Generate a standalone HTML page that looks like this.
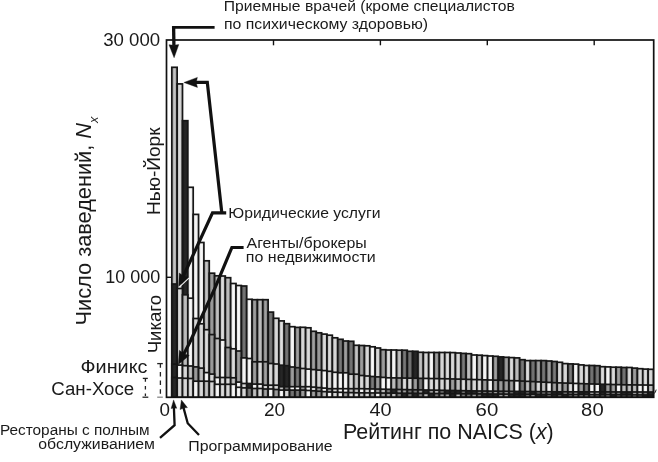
<!DOCTYPE html>
<html><head><meta charset="utf-8"><style>
html,body{margin:0;padding:0;background:#fff;}
svg{display:block;}
text{font-family:"Liberation Sans",sans-serif;fill:#1a1a1a;}
</style></head><body>
<div style="will-change:transform;width:658px;height:462px"><svg width="658" height="462" viewBox="0 0 658 462">
<defs>
<linearGradient id="gK" x1="0" y1="0" x2="1" y2="0"><stop offset="0" stop-color="#1c1c1c"/><stop offset="0.5" stop-color="#262626"/><stop offset="1" stop-color="#1c1c1c"/></linearGradient>
<linearGradient id="gD" x1="0" y1="0" x2="1" y2="0"><stop offset="0" stop-color="#4c4c4c"/><stop offset="0.5" stop-color="#7a7a7a"/><stop offset="1" stop-color="#4c4c4c"/></linearGradient>
<linearGradient id="gM" x1="0" y1="0" x2="1" y2="0"><stop offset="0" stop-color="#6e6e6e"/><stop offset="0.5" stop-color="#a2a2a2"/><stop offset="1" stop-color="#6e6e6e"/></linearGradient>
<linearGradient id="gL" x1="0" y1="0" x2="1" y2="0"><stop offset="0" stop-color="#909090"/><stop offset="0.5" stop-color="#c4c4c4"/><stop offset="1" stop-color="#909090"/></linearGradient>
<linearGradient id="gP" x1="0" y1="0" x2="1" y2="0"><stop offset="0" stop-color="#b0b0b0"/><stop offset="0.5" stop-color="#dedede"/><stop offset="1" stop-color="#b0b0b0"/></linearGradient>
<linearGradient id="gW" x1="0" y1="0" x2="1" y2="0"><stop offset="0" stop-color="#d4d4d4"/><stop offset="0.5" stop-color="#fafafa"/><stop offset="1" stop-color="#d4d4d4"/></linearGradient>
</defs>
<rect width="658" height="462" fill="#fff"/>
<clipPath id="cp"><rect x="166.5" y="30" width="487.2" height="368"/></clipPath>
<g stroke="#161616" stroke-width="1.7" clip-path="url(#cp)">
<rect x="171.80" y="67.30" width="5.35" height="330.00" fill="url(#gL)"/>
<rect x="177.15" y="83.90" width="5.35" height="313.40" fill="url(#gP)"/>
<rect x="182.50" y="120.70" width="5.35" height="276.60" fill="url(#gK)"/>
<rect x="187.86" y="187.30" width="5.35" height="210.00" fill="url(#gW)"/>
<rect x="193.21" y="214.40" width="5.35" height="182.90" fill="url(#gW)"/>
<rect x="198.56" y="242.50" width="5.35" height="154.80" fill="url(#gW)"/>
<rect x="203.91" y="260.80" width="5.35" height="136.50" fill="url(#gL)"/>
<rect x="209.26" y="273.20" width="5.35" height="124.10" fill="url(#gM)"/>
<rect x="214.62" y="275.80" width="5.35" height="121.50" fill="url(#gL)"/>
<rect x="219.97" y="276.00" width="5.35" height="121.30" fill="url(#gP)"/>
<rect x="225.32" y="277.70" width="5.35" height="119.60" fill="url(#gL)"/>
<rect x="230.67" y="283.50" width="5.35" height="113.80" fill="url(#gW)"/>
<rect x="236.02" y="285.50" width="5.35" height="111.80" fill="url(#gW)"/>
<rect x="241.38" y="286.00" width="5.35" height="111.30" fill="url(#gD)"/>
<rect x="246.73" y="299.30" width="5.35" height="98.00" fill="url(#gW)"/>
<rect x="252.08" y="299.70" width="5.35" height="97.60" fill="url(#gM)"/>
<rect x="257.43" y="299.70" width="5.35" height="97.60" fill="url(#gL)"/>
<rect x="262.78" y="299.70" width="5.35" height="97.60" fill="url(#gM)"/>
<rect x="268.14" y="312.10" width="5.35" height="85.20" fill="url(#gD)"/>
<rect x="273.49" y="318.30" width="5.35" height="79.00" fill="url(#gP)"/>
<rect x="278.84" y="320.90" width="5.35" height="76.40" fill="url(#gP)"/>
<rect x="284.19" y="323.70" width="5.35" height="73.60" fill="url(#gD)"/>
<rect x="289.54" y="326.70" width="5.35" height="70.60" fill="url(#gW)"/>
<rect x="294.90" y="327.40" width="5.35" height="69.90" fill="url(#gM)"/>
<rect x="300.25" y="327.30" width="5.35" height="70.00" fill="url(#gP)"/>
<rect x="305.60" y="327.80" width="5.35" height="69.50" fill="url(#gP)"/>
<rect x="310.95" y="331.30" width="5.35" height="66.00" fill="url(#gM)"/>
<rect x="316.30" y="332.80" width="5.35" height="64.50" fill="url(#gM)"/>
<rect x="321.66" y="334.10" width="5.35" height="63.20" fill="url(#gP)"/>
<rect x="327.01" y="335.20" width="5.35" height="62.10" fill="url(#gP)"/>
<rect x="332.36" y="337.80" width="5.35" height="59.50" fill="url(#gP)"/>
<rect x="337.71" y="339.30" width="5.35" height="58.00" fill="url(#gD)"/>
<rect x="343.06" y="341.00" width="5.35" height="56.30" fill="url(#gM)"/>
<rect x="348.42" y="341.30" width="5.35" height="56.00" fill="url(#gD)"/>
<rect x="353.77" y="345.30" width="5.35" height="52.00" fill="url(#gL)"/>
<rect x="359.12" y="345.50" width="5.35" height="51.80" fill="url(#gM)"/>
<rect x="364.47" y="345.80" width="5.35" height="51.50" fill="url(#gP)"/>
<rect x="369.82" y="346.80" width="5.35" height="50.50" fill="url(#gW)"/>
<rect x="375.18" y="348.00" width="5.35" height="49.30" fill="url(#gP)"/>
<rect x="380.53" y="349.70" width="5.35" height="47.60" fill="url(#gM)"/>
<rect x="385.88" y="350.00" width="5.35" height="47.30" fill="url(#gP)"/>
<rect x="391.23" y="350.00" width="5.35" height="47.30" fill="url(#gW)"/>
<rect x="396.58" y="350.20" width="5.35" height="47.10" fill="url(#gL)"/>
<rect x="401.94" y="350.20" width="5.35" height="47.10" fill="url(#gD)"/>
<rect x="407.29" y="351.30" width="5.35" height="46.00" fill="url(#gD)"/>
<rect x="412.64" y="351.30" width="5.35" height="46.00" fill="url(#gK)"/>
<rect x="417.99" y="352.30" width="5.35" height="45.00" fill="url(#gL)"/>
<rect x="423.34" y="352.50" width="5.35" height="44.80" fill="url(#gP)"/>
<rect x="428.70" y="352.50" width="5.35" height="44.80" fill="url(#gW)"/>
<rect x="434.05" y="352.50" width="5.35" height="44.80" fill="url(#gM)"/>
<rect x="439.40" y="352.50" width="5.35" height="44.80" fill="url(#gP)"/>
<rect x="444.75" y="352.50" width="5.35" height="44.80" fill="url(#gP)"/>
<rect x="450.10" y="352.60" width="5.35" height="44.70" fill="url(#gP)"/>
<rect x="455.46" y="353.00" width="5.35" height="44.30" fill="url(#gP)"/>
<rect x="460.81" y="353.40" width="5.35" height="43.90" fill="url(#gD)"/>
<rect x="466.16" y="353.70" width="5.35" height="43.60" fill="url(#gL)"/>
<rect x="471.51" y="355.00" width="5.35" height="42.30" fill="url(#gW)"/>
<rect x="476.86" y="355.20" width="5.35" height="42.10" fill="url(#gL)"/>
<rect x="482.22" y="355.60" width="5.35" height="41.70" fill="url(#gW)"/>
<rect x="487.57" y="356.00" width="5.35" height="41.30" fill="url(#gW)"/>
<rect x="492.92" y="356.30" width="5.35" height="41.00" fill="url(#gM)"/>
<rect x="498.27" y="356.90" width="5.35" height="40.40" fill="url(#gK)"/>
<rect x="503.62" y="357.30" width="5.35" height="40.00" fill="url(#gM)"/>
<rect x="508.98" y="357.60" width="5.35" height="39.70" fill="url(#gP)"/>
<rect x="514.33" y="357.90" width="5.35" height="39.40" fill="url(#gL)"/>
<rect x="519.68" y="359.70" width="5.35" height="37.60" fill="url(#gD)"/>
<rect x="525.03" y="360.60" width="5.35" height="36.70" fill="url(#gP)"/>
<rect x="530.38" y="360.60" width="5.35" height="36.70" fill="url(#gD)"/>
<rect x="535.74" y="360.60" width="5.35" height="36.70" fill="url(#gM)"/>
<rect x="541.09" y="360.60" width="5.35" height="36.70" fill="url(#gD)"/>
<rect x="546.44" y="361.00" width="5.35" height="36.30" fill="url(#gM)"/>
<rect x="551.79" y="361.50" width="5.35" height="35.80" fill="url(#gD)"/>
<rect x="557.14" y="362.30" width="5.35" height="35.00" fill="url(#gP)"/>
<rect x="562.50" y="363.60" width="5.35" height="33.70" fill="url(#gP)"/>
<rect x="567.85" y="363.90" width="5.35" height="33.40" fill="url(#gD)"/>
<rect x="573.20" y="364.10" width="5.35" height="33.20" fill="url(#gW)"/>
<rect x="578.55" y="364.90" width="5.35" height="32.40" fill="url(#gP)"/>
<rect x="583.90" y="365.50" width="5.35" height="31.80" fill="url(#gP)"/>
<rect x="589.26" y="365.50" width="5.35" height="31.80" fill="url(#gD)"/>
<rect x="594.61" y="365.70" width="5.35" height="31.60" fill="url(#gD)"/>
<rect x="599.96" y="366.70" width="5.35" height="30.60" fill="url(#gP)"/>
<rect x="605.31" y="366.90" width="5.35" height="30.40" fill="url(#gW)"/>
<rect x="610.66" y="367.20" width="5.35" height="30.10" fill="url(#gP)"/>
<rect x="616.02" y="367.20" width="5.35" height="30.10" fill="url(#gM)"/>
<rect x="621.37" y="367.50" width="5.35" height="29.80" fill="url(#gD)"/>
<rect x="626.72" y="367.50" width="5.35" height="29.80" fill="url(#gP)"/>
<rect x="632.07" y="368.10" width="5.35" height="29.20" fill="url(#gM)"/>
<rect x="637.42" y="368.70" width="5.35" height="28.60" fill="url(#gP)"/>
<rect x="642.78" y="369.10" width="5.35" height="28.20" fill="url(#gP)"/>
<rect x="648.13" y="369.30" width="5.35" height="28.00" fill="url(#gP)"/>
<rect x="171.80" y="284.00" width="5.35" height="113.30" fill="url(#gK)"/>
<rect x="177.15" y="288.50" width="5.35" height="108.80" fill="url(#gP)"/>
<rect x="182.50" y="294.80" width="5.35" height="102.50" fill="url(#gL)"/>
<rect x="187.86" y="298.20" width="5.35" height="99.10" fill="url(#gW)"/>
<rect x="193.21" y="318.50" width="5.35" height="78.80" fill="url(#gP)"/>
<rect x="198.56" y="323.80" width="5.35" height="73.50" fill="url(#gP)"/>
<rect x="203.91" y="329.70" width="5.35" height="67.60" fill="url(#gP)"/>
<rect x="209.26" y="334.60" width="5.35" height="62.70" fill="url(#gM)"/>
<rect x="214.62" y="338.50" width="5.35" height="58.80" fill="url(#gL)"/>
<rect x="219.97" y="340.00" width="5.35" height="57.30" fill="url(#gW)"/>
<rect x="225.32" y="347.50" width="5.35" height="49.80" fill="url(#gM)"/>
<rect x="230.67" y="348.80" width="5.35" height="48.50" fill="url(#gP)"/>
<rect x="236.02" y="351.00" width="5.35" height="46.30" fill="url(#gM)"/>
<rect x="241.38" y="357.90" width="5.35" height="39.40" fill="url(#gW)"/>
<rect x="246.73" y="358.50" width="5.35" height="38.80" fill="url(#gW)"/>
<rect x="252.08" y="361.80" width="5.35" height="35.50" fill="url(#gM)"/>
<rect x="257.43" y="361.80" width="5.35" height="35.50" fill="url(#gP)"/>
<rect x="262.78" y="361.80" width="5.35" height="35.50" fill="url(#gM)"/>
<rect x="268.14" y="363.50" width="5.35" height="33.80" fill="url(#gP)"/>
<rect x="273.49" y="364.00" width="5.35" height="33.30" fill="url(#gP)"/>
<rect x="278.84" y="365.20" width="5.35" height="32.10" fill="url(#gK)"/>
<rect x="284.19" y="365.70" width="5.35" height="31.60" fill="url(#gK)"/>
<rect x="289.54" y="367.00" width="5.35" height="30.30" fill="url(#gM)"/>
<rect x="294.90" y="367.70" width="5.35" height="29.60" fill="url(#gD)"/>
<rect x="300.25" y="368.50" width="5.35" height="28.80" fill="url(#gP)"/>
<rect x="305.60" y="369.10" width="5.35" height="28.20" fill="url(#gW)"/>
<rect x="310.95" y="369.60" width="5.35" height="27.70" fill="url(#gP)"/>
<rect x="316.30" y="370.10" width="5.35" height="27.20" fill="url(#gP)"/>
<rect x="321.66" y="370.60" width="5.35" height="26.70" fill="url(#gW)"/>
<rect x="327.01" y="371.30" width="5.35" height="26.00" fill="url(#gP)"/>
<rect x="332.36" y="372.30" width="5.35" height="25.00" fill="url(#gW)"/>
<rect x="337.71" y="372.80" width="5.35" height="24.50" fill="url(#gW)"/>
<rect x="343.06" y="372.80" width="5.35" height="24.50" fill="url(#gW)"/>
<rect x="348.42" y="374.20" width="5.35" height="23.10" fill="url(#gP)"/>
<rect x="353.77" y="374.20" width="5.35" height="23.10" fill="url(#gL)"/>
<rect x="359.12" y="375.50" width="5.35" height="21.80" fill="url(#gP)"/>
<rect x="364.47" y="376.00" width="5.35" height="21.30" fill="url(#gP)"/>
<rect x="369.82" y="376.50" width="5.35" height="20.80" fill="url(#gD)"/>
<rect x="375.18" y="376.90" width="5.35" height="20.40" fill="url(#gM)"/>
<rect x="380.53" y="377.40" width="5.35" height="19.90" fill="url(#gW)"/>
<rect x="385.88" y="377.80" width="5.35" height="19.50" fill="url(#gW)"/>
<rect x="391.23" y="377.89" width="5.35" height="19.41" fill="url(#gL)"/>
<rect x="396.58" y="377.98" width="5.35" height="19.32" fill="url(#gM)"/>
<rect x="401.94" y="378.07" width="5.35" height="19.23" fill="url(#gP)"/>
<rect x="407.29" y="378.16" width="5.35" height="19.14" fill="url(#gP)"/>
<rect x="412.64" y="378.25" width="5.35" height="19.05" fill="url(#gM)"/>
<rect x="417.99" y="378.35" width="5.35" height="18.95" fill="url(#gD)"/>
<rect x="423.34" y="378.44" width="5.35" height="18.86" fill="url(#gW)"/>
<rect x="428.70" y="378.53" width="5.35" height="18.77" fill="url(#gP)"/>
<rect x="434.05" y="378.62" width="5.35" height="18.68" fill="url(#gP)"/>
<rect x="439.40" y="378.71" width="5.35" height="18.59" fill="url(#gP)"/>
<rect x="444.75" y="378.80" width="5.35" height="18.50" fill="url(#gP)"/>
<rect x="450.10" y="378.95" width="5.35" height="18.35" fill="url(#gM)"/>
<rect x="455.46" y="379.10" width="5.35" height="18.20" fill="url(#gL)"/>
<rect x="460.81" y="379.25" width="5.35" height="18.05" fill="url(#gP)"/>
<rect x="466.16" y="379.40" width="5.35" height="17.90" fill="url(#gL)"/>
<rect x="471.51" y="379.55" width="5.35" height="17.75" fill="url(#gP)"/>
<rect x="476.86" y="379.70" width="5.35" height="17.60" fill="url(#gP)"/>
<rect x="482.22" y="379.86" width="5.35" height="17.44" fill="url(#gM)"/>
<rect x="487.57" y="380.01" width="5.35" height="17.29" fill="url(#gW)"/>
<rect x="492.92" y="380.17" width="5.35" height="17.13" fill="url(#gM)"/>
<rect x="498.27" y="380.33" width="5.35" height="16.97" fill="url(#gM)"/>
<rect x="503.62" y="380.49" width="5.35" height="16.81" fill="url(#gM)"/>
<rect x="508.98" y="380.64" width="5.35" height="16.66" fill="url(#gM)"/>
<rect x="514.33" y="380.80" width="5.35" height="16.50" fill="url(#gW)"/>
<rect x="519.68" y="381.07" width="5.35" height="16.23" fill="url(#gD)"/>
<rect x="525.03" y="381.34" width="5.35" height="15.96" fill="url(#gL)"/>
<rect x="530.38" y="381.61" width="5.35" height="15.69" fill="url(#gM)"/>
<rect x="535.74" y="381.89" width="5.35" height="15.41" fill="url(#gP)"/>
<rect x="541.09" y="382.16" width="5.35" height="15.14" fill="url(#gL)"/>
<rect x="546.44" y="382.43" width="5.35" height="14.87" fill="url(#gW)"/>
<rect x="551.79" y="382.70" width="5.35" height="14.60" fill="url(#gM)"/>
<rect x="557.14" y="382.89" width="5.35" height="14.41" fill="url(#gL)"/>
<rect x="562.50" y="383.07" width="5.35" height="14.23" fill="url(#gM)"/>
<rect x="567.85" y="383.26" width="5.35" height="14.04" fill="url(#gP)"/>
<rect x="573.20" y="383.44" width="5.35" height="13.86" fill="url(#gW)"/>
<rect x="578.55" y="383.63" width="5.35" height="13.67" fill="url(#gM)"/>
<rect x="583.90" y="383.81" width="5.35" height="13.49" fill="url(#gD)"/>
<rect x="589.26" y="384.00" width="5.35" height="13.30" fill="url(#gW)"/>
<rect x="594.61" y="384.13" width="5.35" height="13.17" fill="url(#gW)"/>
<rect x="599.96" y="384.27" width="5.35" height="13.03" fill="url(#gK)"/>
<rect x="605.31" y="384.40" width="5.35" height="12.90" fill="url(#gM)"/>
<rect x="610.66" y="384.53" width="5.35" height="12.77" fill="url(#gM)"/>
<rect x="616.02" y="384.67" width="5.35" height="12.63" fill="url(#gW)"/>
<rect x="621.37" y="384.80" width="5.35" height="12.50" fill="url(#gL)"/>
<rect x="626.72" y="384.86" width="5.35" height="12.44" fill="url(#gL)"/>
<rect x="632.07" y="384.92" width="5.35" height="12.38" fill="url(#gL)"/>
<rect x="637.42" y="384.98" width="5.35" height="12.32" fill="url(#gW)"/>
<rect x="642.78" y="385.04" width="5.35" height="12.26" fill="url(#gW)"/>
<rect x="648.13" y="385.10" width="5.35" height="12.20" fill="url(#gL)"/>
<rect x="171.80" y="364.10" width="5.35" height="33.20" fill="url(#gK)"/>
<rect x="177.15" y="365.10" width="5.35" height="32.20" fill="url(#gW)"/>
<rect x="182.50" y="365.70" width="5.35" height="31.60" fill="url(#gP)"/>
<rect x="187.86" y="366.00" width="5.35" height="31.30" fill="url(#gL)"/>
<rect x="193.21" y="366.90" width="5.35" height="30.40" fill="url(#gM)"/>
<rect x="198.56" y="368.10" width="5.35" height="29.20" fill="url(#gL)"/>
<rect x="203.91" y="372.60" width="5.35" height="24.70" fill="url(#gW)"/>
<rect x="209.26" y="374.10" width="5.35" height="23.20" fill="url(#gP)"/>
<rect x="214.62" y="377.50" width="5.35" height="19.80" fill="url(#gW)"/>
<rect x="219.97" y="377.50" width="5.35" height="19.80" fill="url(#gP)"/>
<rect x="225.32" y="377.60" width="5.35" height="19.70" fill="url(#gP)"/>
<rect x="230.67" y="377.80" width="5.35" height="19.50" fill="url(#gL)"/>
<rect x="236.02" y="382.10" width="5.35" height="15.20" fill="url(#gW)"/>
<rect x="241.38" y="383.50" width="5.35" height="13.80" fill="url(#gP)"/>
<rect x="246.73" y="383.50" width="5.35" height="13.80" fill="url(#gK)"/>
<rect x="252.08" y="384.10" width="5.35" height="13.20" fill="url(#gW)"/>
<rect x="257.43" y="384.10" width="5.35" height="13.20" fill="url(#gW)"/>
<rect x="262.78" y="385.20" width="5.35" height="12.10" fill="url(#gP)"/>
<rect x="268.14" y="385.20" width="5.35" height="12.10" fill="url(#gP)"/>
<rect x="273.49" y="385.20" width="5.35" height="12.10" fill="url(#gP)"/>
<rect x="278.84" y="386.70" width="5.35" height="10.60" fill="url(#gL)"/>
<rect x="284.19" y="386.70" width="5.35" height="10.60" fill="url(#gD)"/>
<rect x="289.54" y="386.70" width="5.35" height="10.60" fill="url(#gW)"/>
<rect x="294.90" y="386.70" width="5.35" height="10.60" fill="url(#gW)"/>
<rect x="300.25" y="386.70" width="5.35" height="10.60" fill="url(#gM)"/>
<rect x="305.60" y="386.70" width="5.35" height="10.60" fill="url(#gW)"/>
<rect x="310.95" y="387.10" width="5.35" height="10.20" fill="url(#gP)"/>
<rect x="316.30" y="387.60" width="5.35" height="9.70" fill="url(#gM)"/>
<rect x="321.66" y="388.10" width="5.35" height="9.20" fill="url(#gW)"/>
<rect x="327.01" y="388.70" width="5.35" height="8.60" fill="url(#gM)"/>
<rect x="332.36" y="388.70" width="5.35" height="8.60" fill="url(#gP)"/>
<rect x="337.71" y="388.70" width="5.35" height="8.60" fill="url(#gW)"/>
<rect x="343.06" y="388.70" width="5.35" height="8.60" fill="url(#gW)"/>
<rect x="348.42" y="388.70" width="5.35" height="8.60" fill="url(#gL)"/>
<rect x="353.77" y="388.70" width="5.35" height="8.60" fill="url(#gL)"/>
<rect x="359.12" y="388.70" width="5.35" height="8.60" fill="url(#gW)"/>
<rect x="364.47" y="388.82" width="5.35" height="8.48" fill="url(#gP)"/>
<rect x="369.82" y="388.95" width="5.35" height="8.35" fill="url(#gW)"/>
<rect x="375.18" y="389.07" width="5.35" height="8.23" fill="url(#gM)"/>
<rect x="380.53" y="389.20" width="5.35" height="8.10" fill="url(#gL)"/>
<rect x="385.88" y="389.30" width="5.35" height="8.00" fill="url(#gD)"/>
<rect x="391.23" y="389.40" width="5.35" height="7.90" fill="url(#gK)"/>
<rect x="396.58" y="389.50" width="5.35" height="7.80" fill="url(#gM)"/>
<rect x="401.94" y="389.60" width="5.35" height="7.70" fill="url(#gM)"/>
<rect x="407.29" y="389.70" width="5.35" height="7.60" fill="url(#gD)"/>
<rect x="412.64" y="389.80" width="5.35" height="7.50" fill="url(#gD)"/>
<rect x="417.99" y="389.90" width="5.35" height="7.40" fill="url(#gM)"/>
<rect x="423.34" y="390.00" width="5.35" height="7.30" fill="url(#gK)"/>
<rect x="428.70" y="390.10" width="5.35" height="7.20" fill="url(#gM)"/>
<rect x="434.05" y="390.20" width="5.35" height="7.10" fill="url(#gL)"/>
<rect x="439.40" y="390.30" width="5.35" height="7.00" fill="url(#gD)"/>
<rect x="444.75" y="390.40" width="5.35" height="6.90" fill="url(#gK)"/>
<rect x="450.10" y="390.50" width="5.35" height="6.80" fill="url(#gK)"/>
<rect x="455.46" y="390.60" width="5.35" height="6.70" fill="url(#gK)"/>
<rect x="460.81" y="390.70" width="5.35" height="6.60" fill="url(#gD)"/>
<rect x="466.16" y="390.80" width="5.35" height="6.50" fill="url(#gK)"/>
<rect x="471.51" y="390.90" width="5.35" height="6.40" fill="url(#gK)"/>
<rect x="476.86" y="391.00" width="5.35" height="6.30" fill="url(#gD)"/>
<rect x="482.22" y="391.06" width="5.35" height="6.24" fill="url(#gD)"/>
<rect x="487.57" y="391.11" width="5.35" height="6.19" fill="url(#gD)"/>
<rect x="492.92" y="391.17" width="5.35" height="6.13" fill="url(#gM)"/>
<rect x="498.27" y="391.23" width="5.35" height="6.07" fill="url(#gD)"/>
<rect x="503.62" y="391.29" width="5.35" height="6.01" fill="url(#gM)"/>
<rect x="508.98" y="391.34" width="5.35" height="5.96" fill="url(#gD)"/>
<rect x="514.33" y="391.40" width="5.35" height="5.90" fill="url(#gK)"/>
<rect x="519.68" y="391.46" width="5.35" height="5.84" fill="url(#gK)"/>
<rect x="525.03" y="391.51" width="5.35" height="5.79" fill="url(#gD)"/>
<rect x="530.38" y="391.57" width="5.35" height="5.73" fill="url(#gK)"/>
<rect x="535.74" y="391.63" width="5.35" height="5.67" fill="url(#gD)"/>
<rect x="541.09" y="391.69" width="5.35" height="5.61" fill="url(#gM)"/>
<rect x="546.44" y="391.74" width="5.35" height="5.56" fill="url(#gM)"/>
<rect x="551.79" y="391.80" width="5.35" height="5.50" fill="url(#gK)"/>
<rect x="557.14" y="391.81" width="5.35" height="5.49" fill="url(#gK)"/>
<rect x="562.50" y="391.82" width="5.35" height="5.48" fill="url(#gM)"/>
<rect x="567.85" y="391.83" width="5.35" height="5.47" fill="url(#gD)"/>
<rect x="573.20" y="391.84" width="5.35" height="5.46" fill="url(#gM)"/>
<rect x="578.55" y="391.86" width="5.35" height="5.44" fill="url(#gK)"/>
<rect x="583.90" y="391.87" width="5.35" height="5.43" fill="url(#gK)"/>
<rect x="589.26" y="391.88" width="5.35" height="5.42" fill="url(#gL)"/>
<rect x="594.61" y="391.89" width="5.35" height="5.41" fill="url(#gM)"/>
<rect x="599.96" y="391.90" width="5.35" height="5.40" fill="url(#gK)"/>
<rect x="605.31" y="391.91" width="5.35" height="5.39" fill="url(#gD)"/>
<rect x="610.66" y="391.92" width="5.35" height="5.38" fill="url(#gD)"/>
<rect x="616.02" y="391.93" width="5.35" height="5.37" fill="url(#gD)"/>
<rect x="621.37" y="391.94" width="5.35" height="5.36" fill="url(#gK)"/>
<rect x="626.72" y="391.96" width="5.35" height="5.34" fill="url(#gK)"/>
<rect x="632.07" y="391.97" width="5.35" height="5.33" fill="url(#gM)"/>
<rect x="637.42" y="391.98" width="5.35" height="5.32" fill="url(#gM)"/>
<rect x="642.78" y="391.99" width="5.35" height="5.31" fill="url(#gD)"/>
<rect x="648.13" y="392.00" width="5.35" height="5.30" fill="url(#gK)"/>
<rect x="171.80" y="377.50" width="5.35" height="19.80" fill="url(#gK)"/>
<rect x="177.15" y="378.00" width="5.35" height="19.30" fill="url(#gP)"/>
<rect x="182.50" y="378.30" width="5.35" height="19.00" fill="url(#gP)"/>
<rect x="187.86" y="378.50" width="5.35" height="18.80" fill="url(#gP)"/>
<rect x="193.21" y="381.20" width="5.35" height="16.10" fill="url(#gW)"/>
<rect x="198.56" y="381.20" width="5.35" height="16.10" fill="url(#gP)"/>
<rect x="203.91" y="381.20" width="5.35" height="16.10" fill="url(#gL)"/>
<rect x="209.26" y="381.50" width="5.35" height="15.80" fill="url(#gP)"/>
<rect x="214.62" y="384.30" width="5.35" height="13.00" fill="url(#gW)"/>
<rect x="219.97" y="384.30" width="5.35" height="13.00" fill="url(#gP)"/>
<rect x="225.32" y="384.30" width="5.35" height="13.00" fill="url(#gP)"/>
<rect x="230.67" y="384.30" width="5.35" height="13.00" fill="url(#gW)"/>
<rect x="236.02" y="387.30" width="5.35" height="10.00" fill="url(#gW)"/>
<rect x="241.38" y="387.90" width="5.35" height="9.40" fill="url(#gP)"/>
<rect x="246.73" y="388.00" width="5.35" height="9.30" fill="url(#gD)"/>
<rect x="252.08" y="388.50" width="5.35" height="8.80" fill="url(#gL)"/>
<rect x="257.43" y="388.50" width="5.35" height="8.80" fill="url(#gP)"/>
<rect x="262.78" y="389.00" width="5.35" height="8.30" fill="url(#gM)"/>
<rect x="268.14" y="389.00" width="5.35" height="8.30" fill="url(#gW)"/>
<rect x="273.49" y="389.50" width="5.35" height="7.80" fill="url(#gM)"/>
<rect x="278.84" y="390.10" width="5.35" height="7.20" fill="url(#gW)"/>
<rect x="284.19" y="390.10" width="5.35" height="7.20" fill="url(#gP)"/>
<rect x="289.54" y="390.10" width="5.35" height="7.20" fill="url(#gD)"/>
<rect x="294.90" y="390.10" width="5.35" height="7.20" fill="url(#gD)"/>
<rect x="300.25" y="390.10" width="5.35" height="7.20" fill="url(#gM)"/>
<rect x="305.60" y="390.48" width="5.35" height="6.82" fill="url(#gW)"/>
<rect x="310.95" y="390.86" width="5.35" height="6.44" fill="url(#gM)"/>
<rect x="316.30" y="391.24" width="5.35" height="6.06" fill="url(#gM)"/>
<rect x="321.66" y="391.62" width="5.35" height="5.68" fill="url(#gL)"/>
<rect x="327.01" y="392.00" width="5.35" height="5.30" fill="url(#gW)"/>
<rect x="332.36" y="392.16" width="5.35" height="5.14" fill="url(#gP)"/>
<rect x="337.71" y="392.32" width="5.35" height="4.98" fill="url(#gW)"/>
<rect x="343.06" y="392.48" width="5.35" height="4.82" fill="url(#gM)"/>
<rect x="348.42" y="392.64" width="5.35" height="4.66" fill="url(#gP)"/>
<rect x="353.77" y="392.80" width="5.35" height="4.50" fill="url(#gP)"/>
<rect x="359.12" y="392.85" width="5.35" height="4.45" fill="url(#gL)"/>
<rect x="364.47" y="392.90" width="5.35" height="4.40" fill="url(#gP)"/>
<rect x="369.82" y="392.94" width="5.35" height="4.36" fill="url(#gM)"/>
<rect x="375.18" y="392.99" width="5.35" height="4.31" fill="url(#gW)"/>
<rect x="380.53" y="393.04" width="5.35" height="4.26" fill="url(#gM)"/>
<rect x="385.88" y="393.09" width="5.35" height="4.21" fill="url(#gM)"/>
<rect x="391.23" y="393.14" width="5.35" height="4.16" fill="url(#gL)"/>
<rect x="396.58" y="393.18" width="5.35" height="4.12" fill="url(#gD)"/>
<rect x="401.94" y="393.23" width="5.35" height="4.07" fill="url(#gK)"/>
<rect x="407.29" y="393.28" width="5.35" height="4.02" fill="url(#gD)"/>
<rect x="412.64" y="393.33" width="5.35" height="3.97" fill="url(#gK)"/>
<rect x="417.99" y="393.38" width="5.35" height="3.92" fill="url(#gD)"/>
<rect x="423.34" y="393.42" width="5.35" height="3.88" fill="url(#gL)"/>
<rect x="428.70" y="393.47" width="5.35" height="3.83" fill="url(#gK)"/>
<rect x="434.05" y="393.52" width="5.35" height="3.78" fill="url(#gD)"/>
<rect x="439.40" y="393.57" width="5.35" height="3.73" fill="url(#gM)"/>
<rect x="444.75" y="393.62" width="5.35" height="3.68" fill="url(#gM)"/>
<rect x="450.10" y="393.66" width="5.35" height="3.64" fill="url(#gK)"/>
<rect x="455.46" y="393.71" width="5.35" height="3.59" fill="url(#gL)"/>
<rect x="460.81" y="393.76" width="5.35" height="3.54" fill="url(#gD)"/>
<rect x="466.16" y="393.81" width="5.35" height="3.49" fill="url(#gD)"/>
<rect x="471.51" y="393.86" width="5.35" height="3.44" fill="url(#gM)"/>
<rect x="476.86" y="393.90" width="5.35" height="3.40" fill="url(#gD)"/>
<rect x="482.22" y="393.95" width="5.35" height="3.35" fill="url(#gK)"/>
<rect x="487.57" y="394.00" width="5.35" height="3.30" fill="url(#gK)"/>
<rect x="492.92" y="394.04" width="5.35" height="3.26" fill="url(#gK)"/>
<rect x="498.27" y="394.07" width="5.35" height="3.23" fill="url(#gM)"/>
<rect x="503.62" y="394.11" width="5.35" height="3.19" fill="url(#gM)"/>
<rect x="508.98" y="394.14" width="5.35" height="3.16" fill="url(#gK)"/>
<rect x="514.33" y="394.18" width="5.35" height="3.12" fill="url(#gK)"/>
<rect x="519.68" y="394.21" width="5.35" height="3.09" fill="url(#gK)"/>
<rect x="525.03" y="394.25" width="5.35" height="3.06" fill="url(#gD)"/>
<rect x="530.38" y="394.28" width="5.35" height="3.02" fill="url(#gM)"/>
<rect x="535.74" y="394.31" width="5.35" height="2.99" fill="url(#gK)"/>
<rect x="541.09" y="394.35" width="5.35" height="2.95" fill="url(#gK)"/>
<rect x="546.44" y="394.38" width="5.35" height="2.92" fill="url(#gD)"/>
<rect x="551.79" y="394.42" width="5.35" height="2.88" fill="url(#gK)"/>
<rect x="557.14" y="394.45" width="5.35" height="2.85" fill="url(#gD)"/>
<rect x="562.50" y="394.49" width="5.35" height="2.81" fill="url(#gK)"/>
<rect x="567.85" y="394.52" width="5.35" height="2.78" fill="url(#gD)"/>
<rect x="573.20" y="394.56" width="5.35" height="2.74" fill="url(#gM)"/>
<rect x="578.55" y="394.59" width="5.35" height="2.71" fill="url(#gM)"/>
<rect x="583.90" y="394.63" width="5.35" height="2.67" fill="url(#gM)"/>
<rect x="589.26" y="394.66" width="5.35" height="2.64" fill="url(#gM)"/>
<rect x="594.61" y="394.70" width="5.35" height="2.60" fill="url(#gD)"/>
<rect x="599.96" y="394.73" width="5.35" height="2.57" fill="url(#gD)"/>
<rect x="605.31" y="394.76" width="5.35" height="2.54" fill="url(#gL)"/>
<rect x="610.66" y="394.79" width="5.35" height="2.51" fill="url(#gK)"/>
<rect x="616.02" y="394.82" width="5.35" height="2.48" fill="url(#gM)"/>
<rect x="621.37" y="394.85" width="5.35" height="2.45" fill="url(#gD)"/>
<rect x="626.72" y="394.88" width="5.35" height="2.42" fill="url(#gD)"/>
<rect x="632.07" y="394.91" width="5.35" height="2.39" fill="url(#gL)"/>
<rect x="637.42" y="394.94" width="5.35" height="2.36" fill="url(#gM)"/>
<rect x="642.78" y="394.97" width="5.35" height="2.33" fill="url(#gK)"/>
<rect x="648.13" y="395.00" width="5.35" height="2.30" fill="url(#gK)"/>
</g>
<!-- frame -->
<rect x="166.5" y="40" width="487.2" height="357.3" fill="none" stroke="#111" stroke-width="1.7"/>
<g stroke="#111" stroke-width="1.4">
<line x1="273.5" y1="40" x2="273.5" y2="45.3"/>
<line x1="380.4" y1="40" x2="380.4" y2="45.3"/>
<line x1="487.3" y1="40" x2="487.3" y2="45.3"/>
<line x1="594.2" y1="40" x2="594.2" y2="45.3"/>
<line x1="166.5" y1="277.3" x2="171.3" y2="277.3"/>
</g>
<text x="223.82" y="11.10" font-size="14.8" textLength="290.90" lengthAdjust="spacingAndGlyphs">Приемные врачей (кроме специалистов</text>
<text x="223.93" y="29.20" font-size="14.8" textLength="204.20" lengthAdjust="spacingAndGlyphs">по психическому здоровью)</text>
<text x="228.30" y="217.60" font-size="14.6" textLength="152.16" lengthAdjust="spacingAndGlyphs">Юридические услуги</text>
<text x="246.50" y="247.80" font-size="14.6" textLength="120.31" lengthAdjust="spacingAndGlyphs">Агенты/брокеры</text>
<text x="245.84" y="262.00" font-size="14.6" textLength="129.94" lengthAdjust="spacingAndGlyphs">по недвижимости</text>
<text x="-0.11" y="435.20" font-size="15.3" textLength="149.70" lengthAdjust="spacingAndGlyphs">Рестораны с полным</text>
<text x="38.28" y="448.80" font-size="15.3" textLength="116.71" lengthAdjust="spacingAndGlyphs">обслуживанием</text>
<text x="188.34" y="450.50" font-size="15.2" textLength="144.31" lengthAdjust="spacingAndGlyphs">Программирование</text>
<text x="80.52" y="372.60" font-size="18.6" textLength="66.95" lengthAdjust="spacingAndGlyphs">Финикс</text>
<text x="51.32" y="394.50" font-size="18.0" textLength="82.90" lengthAdjust="spacingAndGlyphs">Сан-Хосе</text>
<text x="103.21" y="46.10" font-size="17.6" textLength="56.95" lengthAdjust="spacingAndGlyphs">30 000</text>
<text x="105.37" y="282.50" font-size="17.6" textLength="55.01" lengthAdjust="spacingAndGlyphs">10 000</text>
<text x="159.55" y="416.00" font-size="17.6" textLength="10.49" lengthAdjust="spacingAndGlyphs">0</text>
<text x="263.92" y="416.00" font-size="17.6" textLength="21.21" lengthAdjust="spacingAndGlyphs">20</text>
<text x="369.50" y="416.00" font-size="17.6" textLength="22.12" lengthAdjust="spacingAndGlyphs">40</text>
<text x="475.56" y="416.00" font-size="17.6" textLength="22.73" lengthAdjust="spacingAndGlyphs">60</text>
<text x="581.14" y="416.00" font-size="17.6" textLength="22.53" lengthAdjust="spacingAndGlyphs">80</text>
<text x="342.93" y="439.00" font-size="21.2" textLength="210.86" lengthAdjust="spacingAndGlyphs">Рейтинг по NAICS (<tspan font-style="italic">x</tspan>)</text>
<text transform="translate(91.00,325.38) rotate(-90)" font-size="21.4" textLength="208.73" lengthAdjust="spacingAndGlyphs">Число заведений, <tspan font-style="italic">N</tspan><tspan font-style="italic" font-size="12.5" dy="6.5">x</tspan></text>
<text transform="translate(160.00,215.04) rotate(-90)" font-size="18.6" textLength="87.57" lengthAdjust="spacingAndGlyphs">Нью-Йорк</text>
<text transform="translate(161.00,353.35) rotate(-90)" font-size="18.0" textLength="58.38" lengthAdjust="spacingAndGlyphs">Чикаго</text>
<!-- brackets -->
<g stroke="#222" stroke-width="1.3" fill="none">
<line x1="160.4" y1="363.2" x2="160.4" y2="396" stroke-dasharray="4.5,4.2"/>
<line x1="157.2" y1="363.6" x2="162.8" y2="363.6"/>
<line x1="145.4" y1="378.2" x2="145.4" y2="396" stroke-dasharray="3.5,4.2"/>
<line x1="142.8" y1="378.4" x2="147.8" y2="378.4"/>
<line x1="142.5" y1="397.2" x2="148.3" y2="397.2"/>
<line x1="157.2" y1="397.2" x2="162.8" y2="397.2" stroke="#888"/>
</g>
<path d="M653.6,393.6 Q655.6,393.4 656.2,389.6" fill="none" stroke="#222" stroke-width="1"/>
<!-- arrows -->
<line x1="214.6" y1="27.4" x2="172.2" y2="27.4" stroke="#111" stroke-width="2.6"/>
<polyline points="173.60,26.10 173.91,45.70" fill="none" stroke="#111" stroke-width="3.3" stroke-linejoin="miter"/><polygon points="174.10,57.70 168.99,44.78 173.90,45.20 178.79,44.62" fill="#111" stroke="#111" stroke-width="0.4"/>
<polyline points="221.80,212.80 207.30,82.30 195.70,82.40" fill="none" stroke="#111" stroke-width="3.2" stroke-linejoin="miter"/><polygon points="183.90,82.50 197.36,77.38 196.20,82.39 197.44,87.38" fill="#111" stroke="#111" stroke-width="0.4"/>
<line x1="179.22" y1="287.15" x2="188.99" y2="277.89" stroke="#f4f4f4" stroke-width="1.3"/><polyline points="226.20,212.90 212.50,212.90 183.20,276.51" fill="none" stroke="#111" stroke-width="3.2" stroke-linejoin="miter"/><polygon points="178.60,286.50 179.29,273.05 183.41,276.05 188.37,277.24" fill="#111" stroke="#111" stroke-width="0.4"/>
<polyline points="243.60,247.50 231.90,247.50 214.10,290.00 189.50,343.00 183.63,354.21" fill="none" stroke="#111" stroke-width="3.2" stroke-linejoin="miter"/><polygon points="178.30,364.40 179.37,350.29 183.86,353.77 189.29,355.48" fill="#111" stroke="#111" stroke-width="0.4"/>
<polyline points="160.00,437.80 174.60,425.20 173.90,407.39" fill="none" stroke="#111" stroke-width="2.3" stroke-linejoin="miter"/><polygon points="173.60,399.90 176.73,408.28 173.92,407.89 171.14,408.50" fill="#111" stroke="#111" stroke-width="0.4"/>
<polyline points="199.00,435.00 187.70,423.20 183.49,407.62" fill="none" stroke="#111" stroke-width="2.3" stroke-linejoin="miter"/><polygon points="181.40,399.90 187.42,407.60 183.62,408.11 180.08,409.58" fill="#111" stroke="#111" stroke-width="0.4"/>
</svg></div>
</body></html>
